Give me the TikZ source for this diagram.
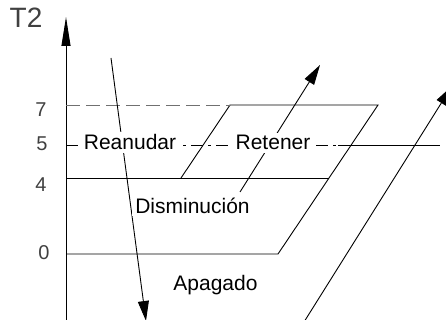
\documentclass[tikz,border=0pt]{standalone}
\usepackage{fontspec}
\setmainfont{Liberation Sans}
\usetikzlibrary{arrows.meta}
\definecolor{numgray}{HTML}{404040}
\definecolor{dashgray}{HTML}{707070}
\begin{document}
\begin{tikzpicture}[x=1pt,y=-1pt,
  ln/.style={line width=0.9pt, black},
  lbl/.style={font=\fontsize{21}{25}\selectfont, fill=white, inner sep=3pt, anchor=base},
  num/.style={font=\fontsize{20}{24}\selectfont, text=numgray, inner sep=0pt},
  arr/.style={ln, -{Triangle[length=20pt,width=11pt]}},
]
\useasboundingbox (0,0) rectangle (446,320);
\clip (0,0) rectangle (446,320);
% coordinates
\coordinate (ax0) at (66,322);
\coordinate (axT) at (66,17);
\coordinate (z0) at (66,254);
\coordinate (z1) at (278,254);
\coordinate (p1) at (378,105);
\coordinate (p2) at (230,105);
\coordinate (p3) at (181,178);
\coordinate (f0) at (66,178);
\coordinate (f1) at (329,178);
\coordinate (s0) at (66,105);
\coordinate (c0) at (66,145);
\coordinate (c1) at (338,145);
\coordinate (c2) at (440,145);
\coordinate (r0) at (111,58);
\coordinate (r1) at (146,321);
\coordinate (t0) at (240,192);
\coordinate (t1) at (320,65);
\coordinate (q0) at (304,322);
\coordinate (q1) at (452,86);
% lines
\draw[ln,-{Triangle[length=29pt,width=9pt]}] (ax0) -- (axT);
\draw[ln] (z0) -- (z1) -- (p1) -- (p2) -- (p3);
\draw[ln] (f0) -- (f1);
\draw[line width=0.9pt, dashgray, dash pattern=on 14pt off 6pt] (s0) -- (p2);
\draw[ln, dash pattern=on 12pt off 5pt on 3pt off 5pt] (c0) -- (c1);
\draw[ln] (c1) -- (c2);
\draw[arr] (r0) -- (r1);
\draw[arr] (t0) -- (t1);
\draw[arr] (q0) -- (q1);
% labels
\node[lbl] (reanudar) at (130,150) {Reanudar};
\node[lbl] (retener) at (273,150) {Retener};
\node[lbl] (dism) at (192.5,213) {Disminución};
\node[lbl] (apag) at (215.5,290) {Apagado};
\node[num] (n7) at (41,110) {7};
\node[num] (n5) at (42,143.7) {5};
\node[num] (n4) at (41,184.5) {4};
\node[num] (n0) at (44,252.5) {0};
\node[num, font=\fontsize{28}{32}\selectfont] (t2) at (26,18) {T2};
\end{tikzpicture}
\end{document}
